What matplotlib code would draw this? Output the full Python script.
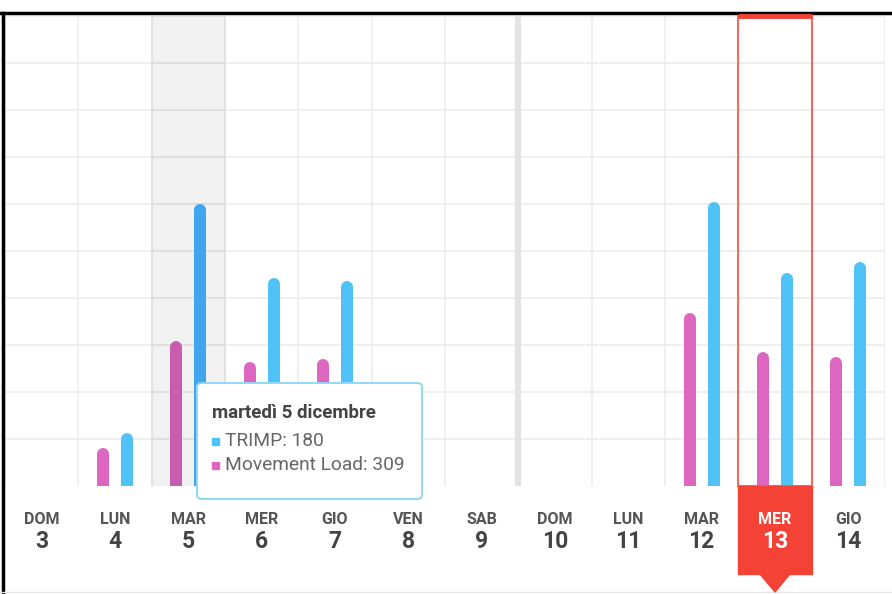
import matplotlib
matplotlib.use("Agg")
import matplotlib.pyplot as plt
from matplotlib.patches import Rectangle, FancyBboxPatch, Polygon
from matplotlib.lines import Line2D
import matplotlib.transforms as mtransforms

plt.rcParams['font.family'] = ['Roboto', 'DejaVu Sans']

# ---- data ----
day_names = ["DOM", "LUN", "MAR", "MER", "GIO", "VEN", "SAB", "DOM", "LUN", "MAR", "MER", "GIO"]
day_nums = ["3", "4", "5", "6", "7", "8", "9", "10", "11", "12", "13", "14"]
trimp = [0, 34, 180, 133, 131, 0, 0, 0, 0, 181, 136, 143]
movement_load = [0, 81, 309, 264, 270, 0, 0, 0, 0, 368, 285, 274]
trimp_max = 300
ml_max = 1000
hover_idx = 2
today_idx = 10
week_sep = 6.5
tooltip_title = "martedì 5 dicembre"
tooltip_lines = [("TRIMP", 180), ("Movement Load", 309)]

W, H, DPI = 892, 594, 100
fig = plt.figure(figsize=(W / DPI, H / DPI), dpi=DPI)
fig.patch.set_facecolor("white")

x0, x1 = 5, 885
ytop, ybase = 16, 486
ax = fig.add_axes([x0 / W, (H - ybase) / H, (x1 - x0) / W, (ybase - ytop) / H])
ax.set_xlim(-0.5, len(day_names) - 0.5)
ax.set_ylim(0, trimp_max)
ax2 = ax.twinx()
ax2.set_ylim(0, ml_max)
ax2.set_position(ax.get_position())
for a in (ax, ax2):
    for s in a.spines.values():
        s.set_visible(False)
    a.tick_params(left=False, right=False, bottom=False, labelleft=False, labelright=False, labelbottom=False)
ax.set_zorder(1)
ax2.set_zorder(2)
ax2.patch.set_visible(False)

grid_c = "#ebebeb"
# horizontal grid
for k in range(1, 11):
    ax.axhline(trimp_max * k / 10, color=grid_c, lw=1.1, zorder=0)
# vertical grid
for k in range(len(day_names) + 1):
    ax.axvline(k - 0.5, color=grid_c, lw=1.1, zorder=0)
# hover shading
ax.axvspan(hover_idx - 0.5, hover_idx + 0.5, color="#f2f2f2", zorder=0.1, lw=0)
for k in range(1, 11):
    ax.plot([hover_idx - 0.5, hover_idx + 0.5], [trimp_max * k / 10] * 2, color="#dedede", lw=1.3, zorder=0.2)
ax.axvline(hover_idx - 0.5, color="#e0e0e0", lw=1.3, zorder=0.2)
ax.axvline(hover_idx + 0.5, color="#e0e0e0", lw=1.3, zorder=0.2)
# week separator
ax.axvline(week_sep, color="#e3e3e3", lw=4.5, zorder=0.3)

# bars
lw_pt = 12 * 72 / DPI
off = mtransforms.ScaledTranslation(0, -lw_pt / 2 / 72, fig.dpi_scale_trans)
dx = 0.165
blue, blue_h = "#4fc3f7", "#42a5f0"
pink, pink_h = "#dd66c0", "#c95cae"
for i, (t, m) in enumerate(zip(trimp, movement_load)):
    if m > 0:
        ax2.add_line(Line2D([i - dx, i - dx], [0, m], color=pink_h if i == hover_idx else pink,
                            lw=lw_pt, solid_capstyle="round", transform=ax2.transData + off, zorder=3))
    if t > 0:
        ax2.add_line(Line2D([i + dx, i + dx], [0, t * ml_max / trimp_max], color=blue_h if i == hover_idx else blue,
                            lw=lw_pt, solid_capstyle="round", transform=ax2.transData + off, zorder=3))

red = "#f44336"
# today outline
ax2.add_patch(Rectangle((today_idx - 0.5, 0), 1, ml_max, fill=False, ec="#f06a62", lw=1.5, zorder=4, clip_on=False))
ax2.plot([today_idx - 0.5, today_idx + 0.5], [ml_max, ml_max], color=red, lw=3.5, zorder=4, clip_on=False, solid_capstyle="butt")

def fy(y):
    return 1 - y / H
def fxd(i):
    return ax.transData.transform((i, 0))[0] / W

# red today label box
lbx0 = fxd(today_idx - 0.5)
lbx1 = fxd(today_idx + 0.5)
fig.patches.append(Rectangle((lbx0, fy(574)), lbx1 - lbx0, fy(486) - fy(574), transform=fig.transFigure,
                             color=red, zorder=5))
cx = (lbx0 + lbx1) / 2
fig.patches.append(Polygon([(cx - 15 / W, fy(574)), (cx + 15 / W, fy(574)), (cx, fy(592))],
                           closed=True, transform=fig.transFigure, color=red, zorder=5))

for i, (dn, num) in enumerate(zip(day_names, day_nums)):
    c1 = "white" if i == today_idx else "#555555"
    c2 = "white" if i == today_idx else "#444444"
    xf = fxd(i)
    fig.text(xf, fy(520), dn, ha="center", va="center", fontsize=11.5, fontweight="bold", color=c1, zorder=6)
    fig.text(xf, fy(541), num, ha="center", va="center", fontsize=16.5, fontweight="bold", color=c2, zorder=6)

# tooltip
tb = FancyBboxPatch((197 / W, fy(499)), (422 - 197) / W, (499 - 383) / H,
                    boxstyle="round,pad=0,rounding_size=0.006", transform=fig.transFigure,
                    fc="white", ec="#8fd8f7", lw=1.4, zorder=10)
fig.patches.append(tb)
fig.text(212 / W, fy(413), tooltip_title, ha="left", va="center", fontsize=13.5, fontweight="bold", color="#444444", zorder=11)
sq_colors = [blue, pink]
for j, (name, val) in enumerate(tooltip_lines):
    yy = fy(441 + 24 * j)
    fig.patches.append(Rectangle((212 / W, yy - 3.5 / H), 7 / W, 7 / H, transform=fig.transFigure,
                                 color=sq_colors[j], zorder=11))
    fig.text(225 / W, yy, f"{name}: {val}", ha="left", va="center", fontsize=13.8, color="#666666", zorder=11)

# frame borders
fig.add_artist(Line2D([0, 1], [fy(13), fy(13)], color="black", lw=2.5, transform=fig.transFigure))
fig.add_artist(Line2D([2.5 / W, 2.5 / W], [0, fy(13)], color="black", lw=2.5, transform=fig.transFigure))
fig.add_artist(Line2D([0, 1], [fy(592), fy(592)], color="#e6e6e6", lw=1, transform=fig.transFigure))

fig.savefig("out.png", dpi=DPI)
